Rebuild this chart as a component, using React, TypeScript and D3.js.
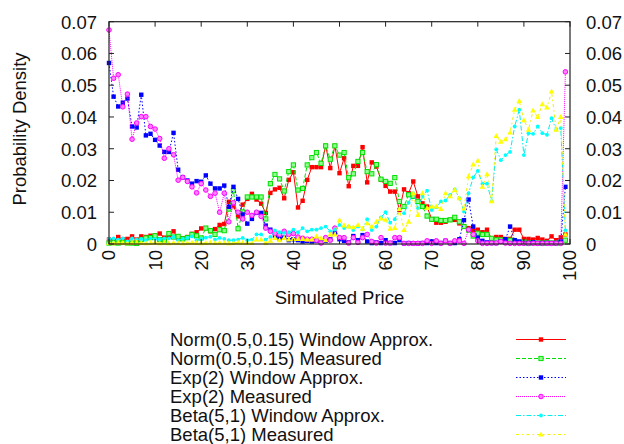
import * as React from 'react';
import { scaleLinear, line, range } from 'd3';

// x = simulated price bins 0..99
const prices = range(0, 100);

const normWindow = [
  0.0014, 0.0010, 0.0022, 0.0014, 0.0016, 0.0024, 0.0014, 0.0024, 0.0022, 0.0026,
  0.0027, 0.0033, 0.0020, 0.0026, 0.0040, 0.0018, 0.0018, 0.0022, 0.0032, 0.0037,
  0.0049, 0.0050, 0.0040, 0.0047, 0.0060, 0.0063, 0.0133, 0.0119, 0.0087, 0.0124,
  0.0142, 0.0158, 0.0140, 0.0127, 0.0098, 0.0161, 0.0172, 0.0177, 0.0144, 0.0202,
  0.0226, 0.0115, 0.0136, 0.0202, 0.0242, 0.0242, 0.0242, 0.0309, 0.0239, 0.0309,
  0.0223, 0.0270, 0.0182, 0.0246, 0.0246, 0.0305, 0.0194, 0.0257, 0.0244, 0.0202,
  0.0183, 0.0165, 0.0165, 0.0107, 0.0172, 0.0160, 0.0197, 0.0150, 0.0128, 0.0118,
  0.0078, 0.0067, 0.0067, 0.0070, 0.0076, 0.0076, 0.0065, 0.0055, 0.0050, 0.0044,
  0.0045, 0.0037, 0.0045, 0.0016, 0.0022, 0.0022, 0.0016, 0.0016, 0.0045, 0.0045,
  0.0016, 0.0016, 0.0014, 0.0019, 0.0014, 0.0010, 0.0024, 0.0012, 0.0021, 0.0030,
];

const normMeasured = [
  0.0003, 0.0004, 0.0003, 0.0005, 0.0003, 0.0003, 0.0002, 0.0014, 0.0019, 0.0020,
  0.0026, 0.0014, 0.0012, 0.0033, 0.0022, 0.0024, 0.0016, 0.0020, 0.0030, 0.0026,
  0.0019, 0.0050, 0.0042, 0.0030, 0.0045, 0.0042, 0.0110, 0.0168, 0.0048, 0.0101,
  0.0148, 0.0148, 0.0148, 0.0148, 0.0079, 0.0190, 0.0219, 0.0205, 0.0167, 0.0228,
  0.0249, 0.0170, 0.0175, 0.0249, 0.0272, 0.0288, 0.0254, 0.0309, 0.0267, 0.0309,
  0.0280, 0.0288, 0.0209, 0.0221, 0.0260, 0.0288, 0.0228, 0.0221, 0.0250, 0.0204,
  0.0197, 0.0191, 0.0209, 0.0134, 0.0118, 0.0155, 0.0150, 0.0134, 0.0118, 0.0088,
  0.0078, 0.0078, 0.0074, 0.0074, 0.0076, 0.0084, 0.0070, 0.0055, 0.0044, 0.0025,
  0.0034, 0.0030, 0.0030, 0.0018, 0.0013, 0.0013, 0.0010, 0.0012, 0.0010, 0.0004,
  0.0006, 0.0003, 0.0004, 0.0003, 0.0003, 0.0004, 0.0003, 0.0003, 0.0004, 0.0012,
];

const expWindow = [
  0.0570, 0.0464, 0.0433, 0.0445, 0.0458, 0.0370, 0.0367, 0.0470, 0.0342, 0.0347,
  0.0328, 0.0310, 0.0290, 0.0290, 0.0350, 0.0234, 0.0210, 0.0200, 0.0190, 0.0198,
  0.0196, 0.0216, 0.0190, 0.0175, 0.0175, 0.0184, 0.0117, 0.0180, 0.0142, 0.0093,
  0.0064, 0.0079, 0.0098, 0.0098, 0.0058, 0.0045, 0.0025, 0.0018, 0.0020, 0.0012,
  0.0015, 0.0012, 0.0008, 0.0010, 0.0008, 0.0010, 0.0005, 0.0010, 0.0015, 0.0035,
  0.0015, 0.0010, 0.0005, 0.0025, 0.0012, 0.0028, 0.0008, 0.0003, 0.0005, 0.0003,
  0.0012, 0.0003, 0.0003, 0.0012, 0.0002, 0.0003, 0.0002, 0.0002, 0.0003, 0.0003,
  0.0008, 0.0003, 0.0003, 0.0010, 0.0003, 0.0003, 0.0015, 0.0075, 0.0140, 0.0055,
  0.0020, 0.0010, 0.0005, 0.0003, 0.0003, 0.0008, 0.0015, 0.0055, 0.0012, 0.0008,
  0.0003, 0.0003, 0.0005, 0.0003, 0.0003, 0.0003, 0.0003, 0.0003, 0.0008, 0.0180,
];

const expMeasured = [
  0.0674, 0.0522, 0.0533, 0.0432, 0.0472, 0.0330, 0.0381, 0.0401, 0.0401, 0.0370,
  0.0362, 0.0332, 0.0270, 0.0300, 0.0281, 0.0201, 0.0210, 0.0197, 0.0180, 0.0161,
  0.0190, 0.0170, 0.0150, 0.0160, 0.0100, 0.0160, 0.0070, 0.0130, 0.0100, 0.0079,
  0.0100, 0.0090, 0.0100, 0.0087, 0.0050, 0.0040, 0.0033, 0.0030, 0.0040, 0.0030,
  0.0033, 0.0022, 0.0018, 0.0015, 0.0015, 0.0012, 0.0003, 0.0020, 0.0012, 0.0050,
  0.0020, 0.0020, 0.0003, 0.0020, 0.0005, 0.0020, 0.0030, 0.0008, 0.0003, 0.0020,
  0.0003, 0.0003, 0.0020, 0.0020, 0.0002, 0.0002, 0.0002, 0.0002, 0.0002, 0.0010,
  0.0002, 0.0010, 0.0002, 0.0010, 0.0002, 0.0010, 0.0010, 0.0002, 0.0045, 0.0030,
  0.0010, 0.0002, 0.0002, 0.0003, 0.0003, 0.0008, 0.0003, 0.0002, 0.0002, 0.0002,
  0.0002, 0.0002, 0.0002, 0.0002, 0.0002, 0.0002, 0.0002, 0.0002, 0.0002, 0.0542,
];

const betaWindow = [
  0.0016, 0.0018, 0.0014, 0.0018, 0.0008, 0.0018, 0.0014, 0.0016, 0.0012, 0.0018,
  0.0016, 0.0015, 0.0018, 0.0018, 0.0022, 0.0012, 0.0016, 0.0019, 0.0024, 0.0012,
  0.0016, 0.0020, 0.0023, 0.0014, 0.0019, 0.0016, 0.0012, 0.0012, 0.0014, 0.0019,
  0.0012, 0.0014, 0.0030, 0.0030, 0.0014, 0.0022, 0.0043, 0.0037, 0.0035, 0.0037,
  0.0045, 0.0037, 0.0050, 0.0040, 0.0045, 0.0045, 0.0050, 0.0055, 0.0040, 0.0045,
  0.0060, 0.0050, 0.0055, 0.0044, 0.0055, 0.0046, 0.0078, 0.0044, 0.0055, 0.0084,
  0.0100, 0.0067, 0.0078, 0.0110, 0.0097, 0.0130, 0.0160, 0.0113, 0.0149, 0.0168,
  0.0107, 0.0116, 0.0134, 0.0137, 0.0155, 0.0172, 0.0144, 0.0102, 0.0160, 0.0210,
  0.0230, 0.0190, 0.0190, 0.0135, 0.0298, 0.0264, 0.0280, 0.0290, 0.0370, 0.0423,
  0.0280, 0.0349, 0.0347, 0.0370, 0.0349, 0.0344, 0.0396, 0.0360, 0.0365, 0.0043,
];

const betaMeasured = [
  0.0003, 0.0002, 0.0004, 0.0003, 0.0002, 0.0003, 0.0005, 0.0003, 0.0002, 0.0003,
  0.0004, 0.0002, 0.0003, 0.0002, 0.0004, 0.0003, 0.0002, 0.0003, 0.0004, 0.0003,
  0.0002, 0.0003, 0.0005, 0.0003, 0.0004, 0.0003, 0.0002, 0.0003, 0.0005, 0.0004,
  0.0003, 0.0003, 0.0014, 0.0014, 0.0003, 0.0010, 0.0019, 0.0012, 0.0019, 0.0014,
  0.0016, 0.0016, 0.0016, 0.0014, 0.0014, 0.0024, 0.0018, 0.0012, 0.0030, 0.0030,
  0.0075, 0.0058, 0.0055, 0.0053, 0.0060, 0.0048, 0.0065, 0.0055, 0.0070, 0.0080,
  0.0076, 0.0048, 0.0050, 0.0110, 0.0044, 0.0070, 0.0160, 0.0091, 0.0160, 0.0113,
  0.0118, 0.0118, 0.0110, 0.0160, 0.0150, 0.0170, 0.0144, 0.0112, 0.0213, 0.0250,
  0.0262, 0.0180, 0.0220, 0.0135, 0.0340, 0.0322, 0.0330, 0.0351, 0.0423, 0.0450,
  0.0390, 0.0360, 0.0420, 0.0400, 0.0440, 0.0430, 0.0480, 0.0360, 0.0400, 0.0030,
];

const seriesNames = [
  'Norm(0.5,0.15) Window Approx.',
  'Norm(0.5,0.15) Measured',
  'Exp(2) Window Approx.',
  'Exp(2) Measured',
  'Beta(5,1) Window Approx.',
  'Beta(5,1) Measured',
];

const xTicks = range(0, 101, 10);
const yTicks = [0, 0.01, 0.02, 0.03, 0.04, 0.05, 0.06, 0.07];

const styles = [
  { color: '#ff0000', dash: undefined, marker: 'square', fill: '#ff0000' },
  { color: '#00e000', dash: '4,2', marker: 'osquare', fill: '#90ff90' },
  { color: '#0000ff', dash: '1.5,2', marker: 'square', fill: '#0000ff' },
  { color: '#ff00ff', dash: '1,1', marker: 'circle', fill: '#ff80ff' },
  { color: '#00eeee', dash: '5,2,1.5,2', marker: 'dot', fill: '#00ffff' },
  { color: '#f0f000', dash: '3,3,1.5,3', marker: 'triangle', fill: '#ffff00' },
];

const W = 624, H = 444;
const plot = { left: 109, right: 570, top: 21.7, bottom: 244 };
const font = '"Liberation Sans", Arial, sans-serif';

const Marker = ({ kind, x, y, color, fill }: { kind: string, x: number, y: number, color: string, fill: string }) => {
  if (kind === 'square') return <rect x={x - 2.2} y={y - 2.2} width={4.4} height={4.4} fill={fill} />;
  if (kind === 'osquare') return <rect x={x - 2.1} y={y - 2.1} width={4.2} height={4.2} fill={fill} stroke={color} strokeWidth={1} />;
  if (kind === 'circle') return <circle cx={x} cy={y} r={2.3} fill={fill} stroke={color} strokeWidth={1} />;
  if (kind === 'dot') return <circle cx={x} cy={y} r={1.9} fill={fill} />;
  return <path d={`M${x},${y - 3} L${x + 2.8},${y + 2} L${x - 2.8},${y + 2} Z`} fill={fill} />;
};

const App = () => {
  const x = scaleLinear().domain([0, 100]).range([plot.left, plot.right]);
  const y = scaleLinear().domain([0, 0.07]).range([plot.bottom, plot.top]);
  const allSeries = [normWindow, normMeasured, expWindow, expMeasured, betaWindow, betaMeasured];

  const lineGen = line<number>()
    .x((d, i) => x(prices[i]))
    .y(d => y(d));

  return (
    <svg width={W} height={H} style={{ position: 'absolute', left: 0, top: 0, background: 'white' }} fontFamily={font}>
      <rect x={0} y={0} width={W} height={H} fill="white" />

      {/* series */}
      {allSeries.map((data, si) => (
        <g key={si}>
          <path d={lineGen(data) || ''} fill="none" stroke={styles[si].color} strokeWidth={1} strokeDasharray={styles[si].dash} />
          {data.map((v, i) => (
            <Marker key={i} kind={styles[si].marker} x={x(prices[i])} y={y(v)} color={styles[si].color} fill={styles[si].fill} />
          ))}
        </g>
      ))}

      {/* border */}
      <rect x={plot.left} y={plot.top} width={plot.right - plot.left} height={plot.bottom - plot.top} fill="none" stroke="#222" strokeWidth={1.2} />

      {/* x ticks (inward, mirrored) */}
      {xTicks.map(t => (
        <g key={t}>
          <line x1={x(t)} x2={x(t)} y1={plot.bottom} y2={plot.bottom - 5} stroke="#222" />
          <line x1={x(t)} x2={x(t)} y1={plot.top} y2={plot.top + 5} stroke="#222" />
          <text transform={`translate(${x(t)},${plot.bottom + 6}) rotate(-90)`} textAnchor="end" dy="0.35em" fontSize={18.5} fill="#111">{t}</text>
        </g>
      ))}

      {/* y ticks both sides */}
      {yTicks.map(t => (
        <g key={t}>
          <line x1={plot.left} x2={plot.left + 5} y1={y(t)} y2={y(t)} stroke="#222" />
          <line x1={plot.right} x2={plot.right - 5} y1={y(t)} y2={y(t)} stroke="#222" />
          <text x={97} y={y(t)} dy="0.37em" textAnchor="end" fontSize={18.5} fill="#111">{t === 0 ? '0' : t.toFixed(2)}</text>
          <text x={586} y={y(t)} dy="0.37em" textAnchor="start" fontSize={18.5} fill="#111">{t === 0 ? '0' : t.toFixed(2)}</text>
        </g>
      ))}

      {/* axis labels */}
      <text x={(plot.left + plot.right) / 2} y={304} textAnchor="middle" fontSize={18.5} fill="#111">Simulated Price</text>
      <text transform={`translate(20,129) rotate(-90)`} textAnchor="middle" dy="0.35em" fontSize={18.5} fill="#111">Probability Density</text>

      {/* legend */}
      {seriesNames.map((name, si) => {
        const cy = 339.5 + si * 19;
        return (
          <g key={si}>
            <text x={170} y={cy} dy="0.35em" fontSize={18.5} fill="#111">{name}</text>
            <line x1={516} x2={566} y1={cy} y2={cy} stroke={styles[si].color} strokeWidth={1} strokeDasharray={styles[si].dash} />
            <Marker kind={styles[si].marker} x={541} y={cy} color={styles[si].color} fill={styles[si].fill} />
          </g>
        );
      })}
    </svg>
  );
};

export default App;
